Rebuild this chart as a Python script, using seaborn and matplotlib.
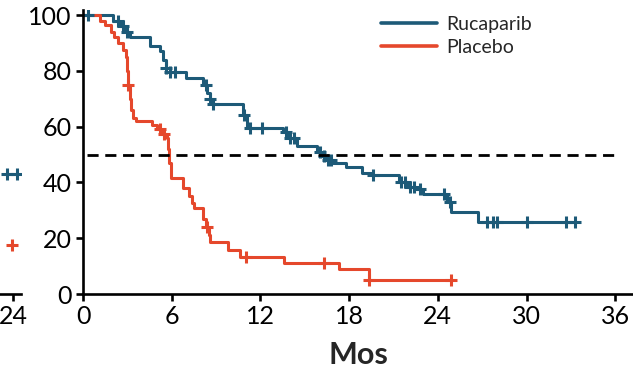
import numpy as np
import pandas as pd
import matplotlib
matplotlib.use("Agg")
import matplotlib.pyplot as plt
import seaborn as sns
from matplotlib.lines import Line2D

sns.set_theme(style="white")
plt.rcParams["font.family"] = ["Lato", "DejaVu Sans"]

# ---- data ----
ruc_t = [0, 2.0, 2.5, 2.9, 3.2, 4.5, 5.2, 5.4, 5.6, 5.9, 7.0, 8.1, 8.4, 8.6, 8.8,
         10.8, 11.1, 13.5, 13.9, 14.5, 15.8, 16.1, 16.5, 16.9, 17.8, 18.9, 19.5,
         21.4, 21.9, 22.5, 23.0, 24.6, 24.9, 26.7, 33.4]
ruc_s = [100, 98, 96, 94, 92, 89, 87, 84, 81, 79.5, 77.5, 75, 72, 70, 68,
         64, 59.5, 58, 56, 53, 51, 49.5, 48, 47, 45.5, 43.5, 42.5,
         40, 38.5, 37.5, 36, 33, 29.5, 25.8, 25.8]
ruc_cens = [0.35, 2.4, 2.7, 3.0, 5.6, 5.9, 6.2, 8.3, 8.6, 8.8, 10.9, 11.3, 12.1,
            13.7, 14.0, 14.3, 16.0, 16.3, 16.6, 16.8, 19.6, 21.5, 21.8, 22.1,
            22.4, 22.8, 24.4, 24.8, 27.3, 27.7, 28.0, 30.0, 32.7, 33.3]

pla_t = [0, 1.15, 1.5, 1.9, 2.1, 2.4, 2.7, 2.9, 3.0, 3.05, 3.15, 3.25, 3.4, 3.6,
         4.7, 5.0, 5.3, 5.7, 5.78, 5.85, 5.95, 6.75, 7.2, 7.35, 7.5, 8.1, 8.3,
         8.5, 8.6, 9.8, 10.6, 13.6, 17.3, 19.35, 25.0]
pla_s = [100, 98, 96.5, 94, 92, 90, 87.5, 85, 80, 75, 70, 66, 63, 62,
         60.5, 59, 57.5, 56, 52, 47, 41.5, 38, 35, 32.5, 31, 27, 24,
         21, 18.6, 15.8, 13.2, 11, 9, 5, 5]
pla_cens = [3.05, 5.2, 5.5, 8.4, 11.0, 16.3, 19.35, 24.9]

# fragment of the neighbouring panel (cut at left edge)
frag_ruc_t = [23.6, 24.3]
frag_ruc_s = [43, 43]
frag_pla_t = [23.9]
frag_pla_s = [17.5]

median_level = 50
median_span = [0.3, 36]

x_ticks = [0, 6, 12, 18, 24, 30, 36]
y_ticks = [0, 20, 40, 60, 80, 100]

BLUE = "#1d5a78"
RED = "#e5482c"


def level_at(ts, ss, t):
    i = np.searchsorted(ts, t, side="right") - 1
    return ss[i]


ruc_cens_s = [level_at(ruc_t, ruc_s, t) for t in ruc_cens]
pla_cens_s = [level_at(pla_t, pla_s, t) for t in pla_cens]

fig = plt.figure(figsize=(6.33, 3.69), dpi=100)
W, H = 633, 369
ax = fig.add_axes([83 / W, 75 / H, 550 / W, 284 / H])

df_r = pd.DataFrame({"t": ruc_t, "s": ruc_s})
df_p = pd.DataFrame({"t": pla_t, "s": pla_s})

LW = 2.2
sns.lineplot(data=df_r, x="t", y="s", ax=ax, color=BLUE, lw=LW,
             drawstyle="steps-post", estimator=None, sort=False, label="Rucaparib")
sns.lineplot(data=df_p, x="t", y="s", ax=ax, color=RED, lw=LW,
             drawstyle="steps-post", estimator=None, sort=False, label="Placebo")
ax.plot(ruc_cens, ruc_cens_s, ls="none", marker="+", ms=9, mew=2.2, color=BLUE)
ax.plot(pla_cens, pla_cens_s, ls="none", marker="+", ms=9, mew=2.2, color=RED)

ax.plot(median_span, [median_level, median_level], color="black", lw=2.0,
        ls=(0, (4.0, 2.4)))

ax.set_xlim(0, 37.2)
ax.set_ylim(0, 101.8)
ax.set_xticks(x_ticks)
ax.set_yticks(y_ticks)
ax.set_xlabel("Mos", fontsize=22, fontweight="bold", labelpad=9)
ax.set_ylabel("")
for s in ["top", "right"]:
    ax.spines[s].set_visible(False)
for s in ["left", "bottom"]:
    ax.spines[s].set_linewidth(1.9)
    ax.spines[s].set_color("black")
ax.tick_params(axis="both", direction="out", length=5, width=1.9,
               labelsize=18, colors="black", pad=3)
ax.tick_params(axis="both", which="both", bottom=True, left=True)

handles = [Line2D([], [], color=BLUE, lw=2.6), Line2D([], [], color=RED, lw=2.6)]
ax.legend(handles, ["Rucaparib", "Placebo"], loc="upper left",
          bbox_to_anchor=(0.51, 1.04), frameon=False, fontsize=14,
          handlelength=2.9, handletextpad=0.45, labelspacing=0.3)

# neighbouring panel fragment
ax0 = fig.add_axes([-342 / W, 75 / H, 363 / W, 284 / H])
ax0.set_xlim(0, 24.54)
ax0.set_ylim(0, 101.8)
ax0.patch.set_alpha(0)
for s in ["top", "right", "left"]:
    ax0.spines[s].set_visible(False)
ax0.spines["bottom"].set_linewidth(1.9)
ax0.spines["bottom"].set_color("black")
ax0.set_xticks([24])
ax0.set_yticks([])
ax0.tick_params(axis="x", direction="out", length=5, width=1.9, labelsize=18,
                colors="black", pad=3, bottom=True)
ax0.plot(frag_ruc_t, frag_ruc_s, color=BLUE, lw=LW, marker="+", ms=9, mew=2.2)
ax0.plot(frag_pla_t, frag_pla_s, ls="none", color=RED, marker="+", ms=9, mew=2.2)

fig.savefig("out.png", dpi=100)
